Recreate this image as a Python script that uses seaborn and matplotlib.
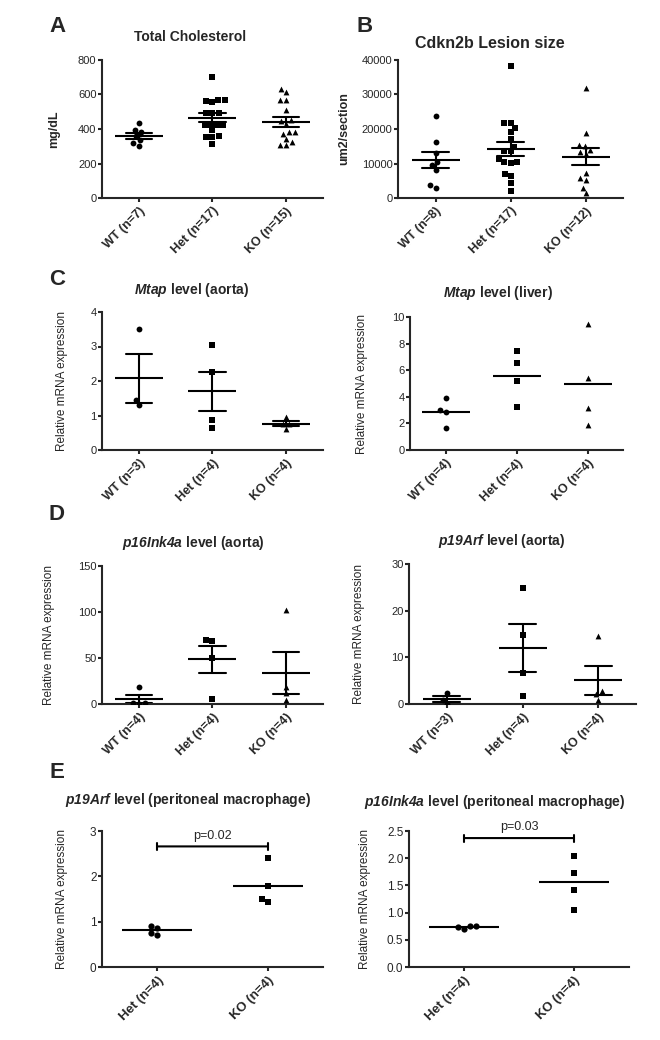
import numpy as np
import pandas as pd
import matplotlib
matplotlib.use('Agg')
import matplotlib.pyplot as plt
import seaborn as sns

# ---- data ----
# A  total cholesterol (mg/dL)
chol_labels = ['WT (n=7)', 'Het (n=17)', 'KO (n=15)']
chol_wt = [433, 384, 394, 361, 336, 317, 303]
chol_het = [703, 567, 558, 562, 567, 490, 494, 490, 426, 426, 426, 426, 393, 354, 354, 358, 312]
chol_ko = [613, 633, 569, 569, 511, 452, 449, 429, 384, 371, 384, 322, 307, 307, 342]

# B  lesion size (um2/section)
lesion_labels = ['WT (n=8)', 'Het (n=17)', 'KO (n=12)']
lesion_wt = [23800, 16300, 13100, 9500, 10500, 8100, 2900, 3700]
lesion_het = [38200, 21600, 20400, 21600, 19200, 17000, 14900, 13700, 13600,
              11300, 10300, 10300, 10200, 6300, 7100, 4300, 1900]
lesion_ko = [31800, 18700, 15300, 15000, 13900, 13400, 12700, 5900, 5300, 7300, 1500, 3000]

# C  Mtap aorta / liver
mtap_aorta_labels = ['WT (n=3)', 'Het (n=4)', 'KO (n=4)']
mtap_aorta_wt = [3.51, 1.44, 1.29]
mtap_aorta_het = [3.04, 2.25, 0.87, 0.65]
mtap_aorta_ko = [0.97, 0.75, 0.75, 0.60]

mtap_liver_labels = ['WT (n=4)', 'Het (n=4)', 'KO (n=4)']
mtap_liver_wt = [3.93, 3.0, 2.83, 1.68]
mtap_liver_het = [7.43, 6.53, 5.18, 3.25]
mtap_liver_ko = [9.48, 5.38, 3.18, 1.88]

# D  p16Ink4a / p19Arf aorta
p16_aorta_labels = ['WT (n=4)', 'Het (n=4)', 'KO (n=4)']
p16_aorta_wt = [18.0, 1.5, 0.5, 1.5]
p16_aorta_het = [68.5, 69.6, 50.5, 5.4]
p16_aorta_ko = [102, 18.5, 12, 4]

p19_aorta_labels = ['WT (n=3)', 'Het (n=4)', 'KO (n=4)']
p19_aorta_wt = [2.36, 0.93, 0.0]
p19_aorta_het = [24.9, 14.7, 6.6, 1.8]
p19_aorta_ko = [14.5, 2.8, 2.1, 0.9]

# E  peritoneal macrophage
mac_labels = ['Het (n=4)', 'KO (n=4)']
p19_mac_het = [0.86, 0.91, 0.76, 0.70]
p19_mac_ko = [2.41, 1.78, 1.51, 1.43]
p16_mac_het = [0.75, 0.70, 0.73, 0.76]
p16_mac_ko = [2.04, 1.73, 1.41, 1.04]
p_values = ['p=0.02', 'p=0.03']
bracket_y = [2.66, 2.37]

# ---- style ----
sns.set_style('ticks')
plt.rcParams['font.family'] = ['Liberation Sans', 'DejaVu Sans']
plt.rcParams['mathtext.fontset'] = 'custom'
plt.rcParams['mathtext.it'] = 'Liberation Sans:italic:bold'
plt.rcParams['mathtext.rm'] = 'Liberation Sans:italic:bold'

W, H = 660, 1040
fig = plt.figure(figsize=(W / 100, H / 100), dpi=100)


def add_box(x0, x1, ytop, ybot):
    return fig.add_axes([x0 / W, 1 - ybot / H, (x1 - x0) / W, (ybot - ytop) / H])


def dot_panel(ax, groups, labels, markers, ylim, yticks, ylabel, ylabel_x,
              bold_ylabel=False, sem=True, line_pt=34, tick_fs=9, ytick_fs=8, dot=4.2):
    df = pd.DataFrame({'group': np.repeat(labels, [len(g) for g in groups]),
                       'value': np.concatenate(groups)})
    for lab, mk in zip(labels, markers):
        sns.swarmplot(data=df[df.group == lab], x='group', y='value', order=labels,
                      marker=mk, color='black', size=dot, ax=ax)
    sns.pointplot(data=df, x='group', y='value', order=labels,
                  errorbar='se' if sem else None, capsize=0.36, color='black',
                  marker='_', markersize=line_pt, markeredgewidth=1.5,
                  linestyle='none', err_kws={'linewidth': 1.5}, ax=ax)
    ax.set_xlim(-0.5, len(labels) - 0.5)
    ax.set_ylim(*ylim)
    ax.set_yticks(yticks)
    ax.set_xlabel('')
    ax.set_ylabel(ylabel, fontsize=9 if bold_ylabel else 8.5,
                  fontweight='bold' if bold_ylabel else 'normal')
    pos = ax.get_position()
    ax.yaxis.set_label_coords((ylabel_x / W - pos.x0) / pos.width, 0.5)
    ax.set_xticks(range(len(labels)))
    ax.set_xticklabels(labels, rotation=45, ha='right', rotation_mode='anchor',
                       fontweight='bold', fontsize=tick_fs)
    ax.tick_params(axis='y', labelsize=ytick_fs, width=1.5, length=3, pad=1)
    ax.tick_params(axis='x', width=1.5, length=3, pad=2)
    for s in ['left', 'bottom']:
        ax.spines[s].set_linewidth(1.5)
    sns.despine(ax=ax)


def title(x, y, text, size=10):
    fig.text(x / W, 1 - y / H, text, ha='center', va='center',
             fontweight='bold', fontsize=size)


def letter(x, y, text):
    fig.text(x / W, 1 - y / H, text, ha='center', va='center',
             fontweight='bold', fontsize=16)


# A
ax = add_box(102, 323, 60, 198)
dot_panel(ax, [chol_wt, chol_het, chol_ko], chol_labels, ['o', 's', '^'],
          (0, 800), [0, 200, 400, 600, 800], 'mg/dL', 60, bold_ylabel=True)
title(190, 37, 'Total Cholesterol', 10)
letter(57, 26, 'A')

# B
ax = add_box(398, 623, 60, 198)
dot_panel(ax, [lesion_wt, lesion_het, lesion_ko], lesion_labels, ['o', 's', '^'],
          (0, 40000), [0, 10000, 20000, 30000, 40000], 'um2/section', 350, bold_ylabel=True)
title(490, 43, 'Cdkn2b Lesion size', 11.5)
letter(365, 26, 'B')

# C
ax = add_box(102, 323, 312, 450)
dot_panel(ax, [mtap_aorta_wt, mtap_aorta_het, mtap_aorta_ko], mtap_aorta_labels,
          ['o', 's', '^'], (0, 4), [0, 1, 2, 3, 4], 'Relative mRNA expression', 68)
title(192, 290, r'$\mathit{Mtap}$ level (aorta)')
letter(57, 280, 'C')

ax = add_box(410, 623, 317, 450)
dot_panel(ax, [mtap_liver_wt, mtap_liver_het, mtap_liver_ko], mtap_liver_labels,
          ['o', 's', '^'], (0, 10), [0, 2, 4, 6, 8, 10], 'Relative mRNA expression', 368,
          sem=False)
title(498, 293, r'$\mathit{Mtap}$ level (liver)')

# D
ax = add_box(102, 323, 566, 704)
dot_panel(ax, [p16_aorta_wt, p16_aorta_het, p16_aorta_ko], p16_aorta_labels,
          ['o', 's', '^'], (0, 150), [0, 50, 100, 150], 'Relative mRNA expression', 55)
title(193, 543, r'$\mathit{p16Ink4a}$ level (aorta)')
letter(57, 515, 'D')

ax = add_box(409, 636, 564, 704)
dot_panel(ax, [p19_aorta_wt, p19_aorta_het, p19_aorta_ko], p19_aorta_labels,
          ['o', 's', '^'], (0, 30), [0, 10, 20, 30], 'Relative mRNA expression', 365)
title(502, 541, r'$\mathit{p19Arf}$ level (aorta)')

# E
e_specs = [
    ((102, 323), [p19_mac_het, p19_mac_ko], (0, 3), [0, 1, 2, 3], 68,
     (188, 800), r'$\mathit{p19Arf}$ level (peritoneal macrophage)'),
    ((409, 629), [p16_mac_het, p16_mac_ko], (0, 2.5), [0, 0.5, 1.0, 1.5, 2.0, 2.5], 371,
     (495, 802), r'$\mathit{p16Ink4a}$ level (peritoneal macrophage)'),
]
for i, (xs, grp, yl, yt, ylx, tpos, ttl) in enumerate(e_specs):
    ax = add_box(xs[0], xs[1], 831, 967)
    dot_panel(ax, grp, mac_labels, ['o', 's'], yl, yt, 'Relative mRNA expression', ylx,
              sem=False, line_pt=50, tick_fs=9.5, ytick_fs=8.5, dot=4.5)
    if i == 1:
        ax.set_yticklabels([f'{v:.1f}' for v in yt])
    ax.annotate('', xy=(0, bracket_y[i]), xytext=(1, bracket_y[i]),
                arrowprops=dict(arrowstyle='|-|, widthA=0.25, widthB=0.25', lw=1.5,
                                color='black', shrinkA=0, shrinkB=0))
    ax.text(0.5, bracket_y[i] + (yl[1] - yl[0]) * 0.035, p_values[i], ha='center',
            va='bottom', fontsize=9)
    title(tpos[0], tpos[1], ttl)
letter(57, 772, 'E')

fig.savefig('out.png', dpi=100)
